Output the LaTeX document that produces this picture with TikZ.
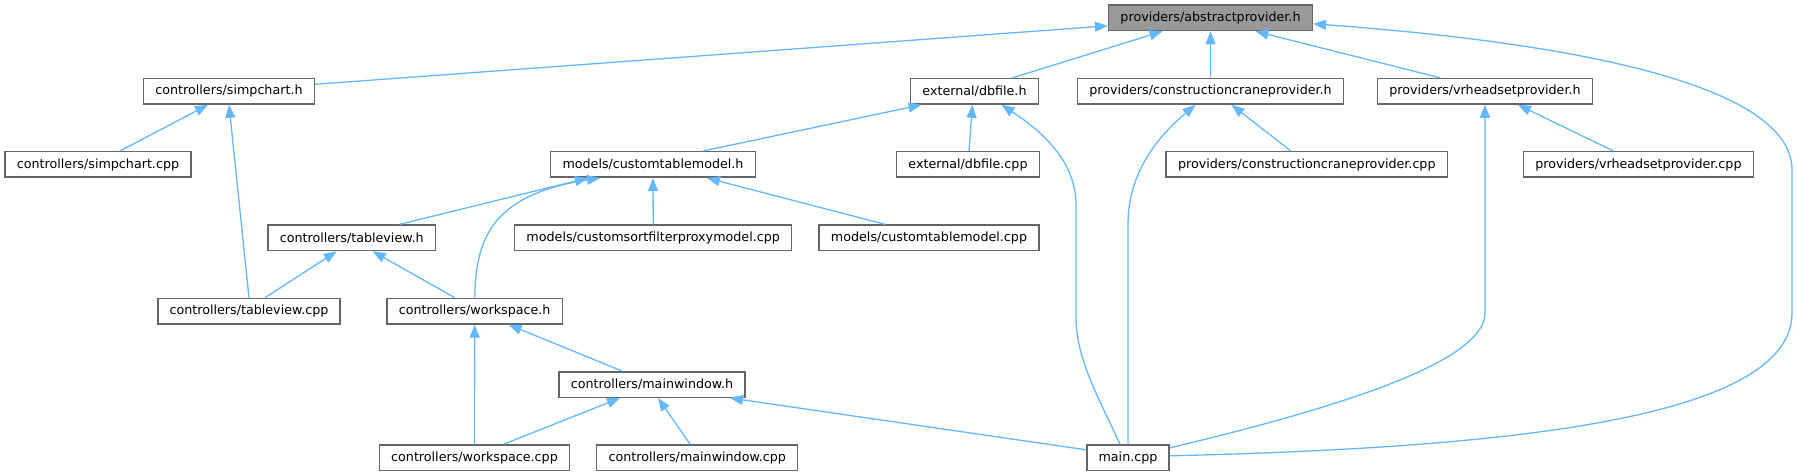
\documentclass[tikz,border=0pt]{standalone}
\usepackage{fontspec}
\setmainfont{DejaVu Sans}
\usetikzlibrary{arrows.meta}
\definecolor{edgeblue}{HTML}{63B8FF}
\definecolor{boxgray}{HTML}{666666}
\definecolor{rootgray}{HTML}{999999}

\begin{document}
\begin{tikzpicture}[
    x=1pt, y=-1pt,
    >={Triangle[length=13pt,width=10pt]},
    box/.style={draw=boxgray, line width=1.5pt, fill=white, minimum height=25.5pt,
      inner xsep=11.8pt, inner ysep=0pt, font=\fontsize{12.7}{15}\selectfont},
    root/.style={box, fill=rootgray},
    dep/.style={->, draw=edgeblue, line width=1.3pt},
  ]
  \useasboundingbox (0,0) rectangle (1797,476);
  % row 1
  \node[root] (ap) at (1210.5,17.8) {providers/abstractprovider.h};
  % row 2
  \node[box] (sch) at (229,91.3) {controllers/simpchart.h};
  \node[box] (dbh) at (974.5,91.3) {external/dbfile.h};
  \node[box] (cch) at (1210.5,91.3) {providers/constructioncraneprovider.h};
  \node[box] (vrh) at (1485,91.3) {providers/vrheadsetprovider.h};
  % row 3
  \node[box] (schc) at (98,164.5) {controllers/simpchart.cpp};
  \node[box] (ctmh) at (653,164.5) {models/customtablemodel.h};
  \node[box] (dbc) at (968,164.5) {external/dbfile.cpp};
  \node[box] (ccc) at (1306.8,164.5) {providers/constructioncraneprovider.cpp};
  \node[box] (vrc) at (1638.4,164.5) {providers/vrheadsetprovider.cpp};
  % row 4
  \node[box] (tvh) at (351.7,237.8) {controllers/tableview.h};
  \node[box] (sfp) at (653.2,237.8) {models/customsortfilterproxymodel.cpp};
  \node[box] (ctmc) at (929,237.8) {models/customtablemodel.cpp};
  % row 5
  \node[box] (tvc) at (249,311.2) {controllers/tableview.cpp};
  \node[box] (wsh) at (474.7,311.2) {controllers/workspace.h};
  % row 6
  \node[box] (mwh) at (652,384.5) {controllers/mainwindow.h};
  % row 7
  \node[box] (wsc) at (474.5,457.8) {controllers/workspace.cpp};
  \node[box] (mwc) at (697.2,457.8) {controllers/mainwindow.cpp};
  \node[box] (mainc) at (1128,457.8) {main.cpp};

  % includes of abstractprovider.h
  \draw[dep] ([yshift=7pt]sch.east) -- ([yshift=-8pt]ap.west);
  \draw[dep] ([xshift=38pt]dbh.north) -- ([xshift=-48pt]ap.south);
  \draw[dep] (cch.north) -- (ap.south);
  \draw[dep] ([xshift=-45pt]vrh.north) -- ([xshift=45pt]ap.south);
  \draw[dep] ([yshift=2pt]mainc.east) .. controls (1500,448) and (1792,420) .. (1792,313)
    -- (1792,170) .. controls (1792,90) and (1600,45) .. ([yshift=-6pt]ap.east);
  % second level
  \draw[dep] ([xshift=22pt]schc.north) -- ([xshift=-21pt]sch.south);
  \draw[dep] (tvc.north) -- (sch.south);
  \draw[dep] ([xshift=50pt]ctmh.north) -- ([xshift=-53pt]dbh.south);
  \draw[dep] ([xshift=1pt]dbc.north) -- ([xshift=-2pt]dbh.south);
  \draw[dep] ([xshift=-8pt]mainc.north) .. controls (1100,400) and (1076,360) .. (1076,317)
    -- (1076,205) .. controls (1076,160) and (1040,130) .. ([xshift=27pt]dbh.south);
  \draw[dep] (mainc.north) -- (1128,225) .. controls (1128,170) and (1160,135) .. ([xshift=-15pt]cch.south);
  \draw[dep] ([xshift=-16pt]ccc.north) -- ([xshift=21pt]cch.south);
  \draw[dep] ([yshift=10pt]mainc.east) .. controls (1350,405) and (1485,360) .. (1485,313) -- (vrh.south);
  \draw[dep] ([xshift=-25pt]vrc.north) -- ([xshift=33pt]vrh.south);
  % models/customtablemodel.h
  \draw[dep] ([xshift=48pt]tvh.north) -- ([xshift=-65pt]ctmh.south);
  \draw[dep] (wsh.north) .. controls (476,240) and (490,195) .. ([xshift=-53pt]ctmh.south);
  \draw[dep] (sfp.north) -- (ctmh.south);
  \draw[dep] ([xshift=-44pt]ctmc.north) -- ([xshift=54pt]ctmh.south);
  % controllers
  \draw[dep] ([xshift=16pt]tvc.north) -- ([xshift=-15pt]tvh.south);
  \draw[dep] ([xshift=-20pt]wsh.north) -- ([xshift=21pt]tvh.south);
  \draw[dep] (wsc.north) -- (wsh.south);
  \draw[dep] ([xshift=-30pt]mwh.north) -- ([xshift=34pt]wsh.south);
  \draw[dep] ([xshift=29pt]wsc.north) -- ([xshift=-32pt]mwh.south);
  \draw[dep] ([xshift=-7pt]mwc.north) -- ([xshift=6pt]mwh.south);
  \draw[dep] ([yshift=8pt]mainc.west) -- ([xshift=78pt]mwh.south);
\end{tikzpicture}
\end{document}
